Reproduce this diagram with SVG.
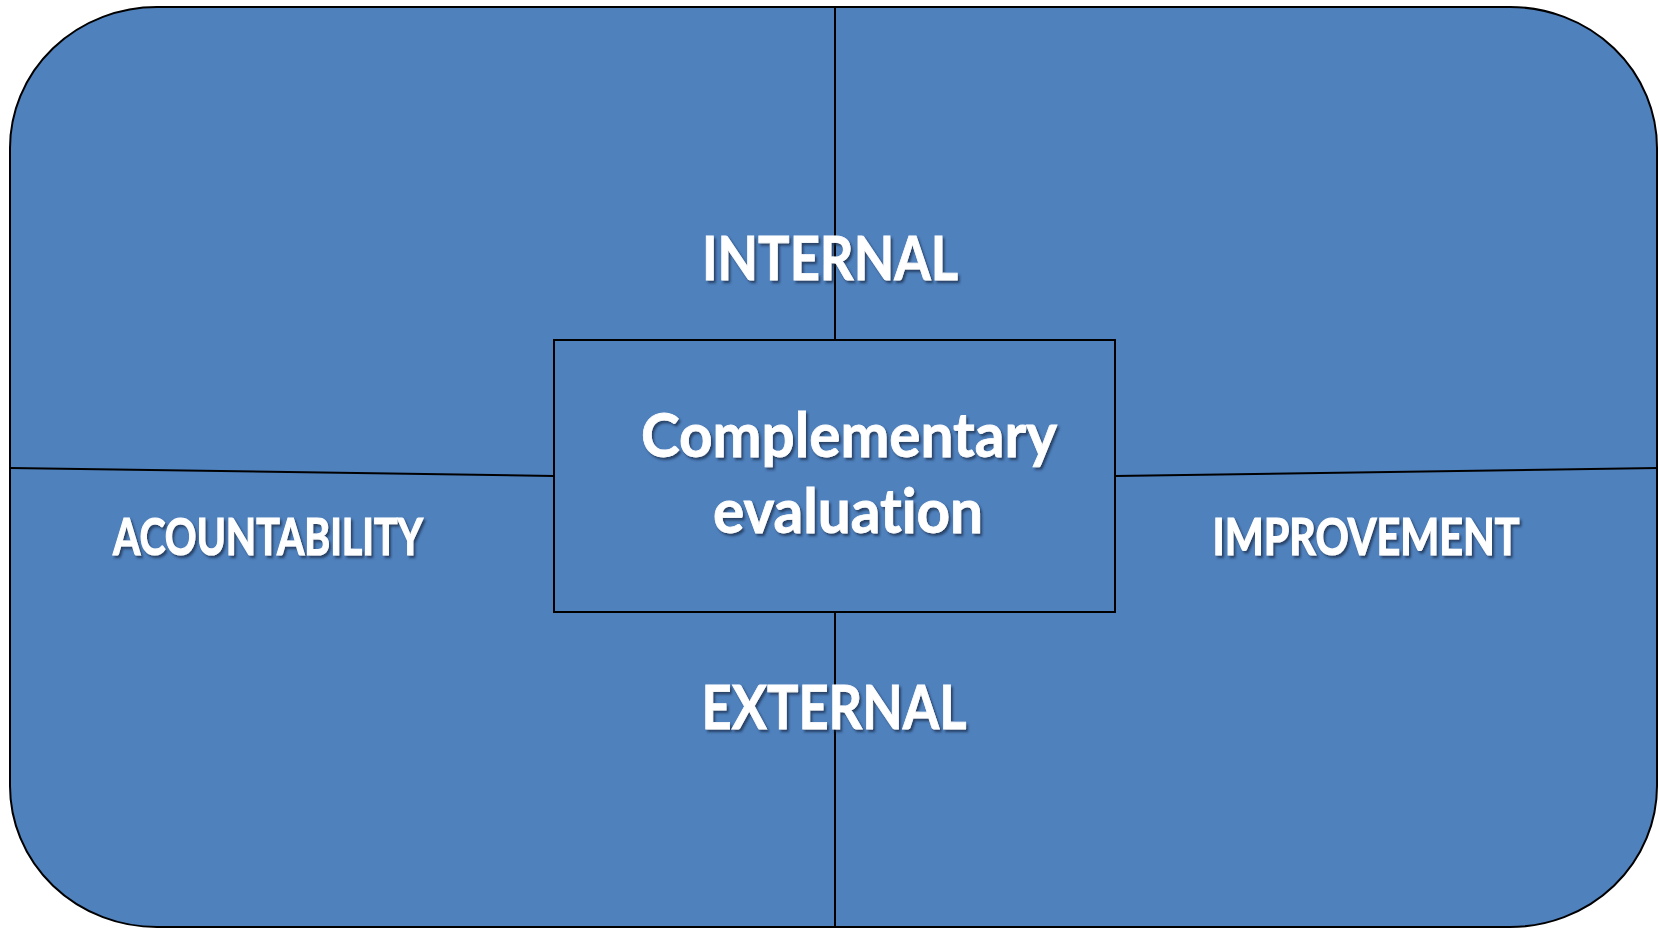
<svg xmlns="http://www.w3.org/2000/svg" width="1659" height="928" viewBox="0 0 1659 928">
  <defs>
    <filter id="shadow" x="-10%" y="-30%" width="120%" height="160%">
      <feDropShadow dx="2" dy="2.5" stdDeviation="1.2" flood-color="#1a2f4a" flood-opacity="0.75"/>
    </filter>
  </defs>
  <style>
    .panel { fill: #4F81BD; stroke: #000000; stroke-width: 2; }
    .conn { stroke: #000000; stroke-width: 2; fill: none; }
    .lbl { fill: #FFFFFF; stroke: #FFFFFF; stroke-width: 0.8; font-family: Lato, "Open Sans", "Liberation Sans", sans-serif; font-weight: bold; text-anchor: middle; font-variant-ligatures: none; filter: url(#shadow); }
    .big { font-size: 62px; }
    .side { font-size: 51px; stroke-width: 1.2; }
  </style>
  <rect width="1659" height="928" fill="#FFFFFF"/>
  <g id="background">
    <rect class="panel" x="10" y="7" width="1647" height="920" rx="147" ry="141"/>
  </g>
  <g id="connectors">
    <line class="conn" x1="835" y1="7" x2="835" y2="340"/>
    <line class="conn" x1="835" y1="612" x2="835" y2="928"/>
    <line class="conn" x1="10" y1="468" x2="554" y2="476"/>
    <line class="conn" x1="1115" y1="476" x2="1658" y2="468"/>
  </g>
  <g id="center-box">
    <rect class="panel" x="554" y="340" width="561" height="272"/>
    <text class="lbl big" x="849" y="457" textLength="416" lengthAdjust="spacingAndGlyphs">Complementary</text>
    <text class="lbl big" x="848" y="533" textLength="270" lengthAdjust="spacingAndGlyphs">evaluation</text>
  </g>
  <g id="internal">
    <text class="lbl big" x="830" y="280" textLength="256" lengthAdjust="spacingAndGlyphs">INTERNAL</text>
  </g>
  <g id="external">
    <text class="lbl big" x="834" y="729" textLength="265" lengthAdjust="spacingAndGlyphs">EXTERNAL</text>
  </g>
  <g id="accountability">
    <text class="lbl side" x="268" y="555" textLength="310" lengthAdjust="spacingAndGlyphs">ACOUNTABILITY</text>
  </g>
  <g id="improvement">
    <text class="lbl side" x="1366" y="555" textLength="307" lengthAdjust="spacingAndGlyphs">IMPROVEMENT</text>
  </g>
</svg>
